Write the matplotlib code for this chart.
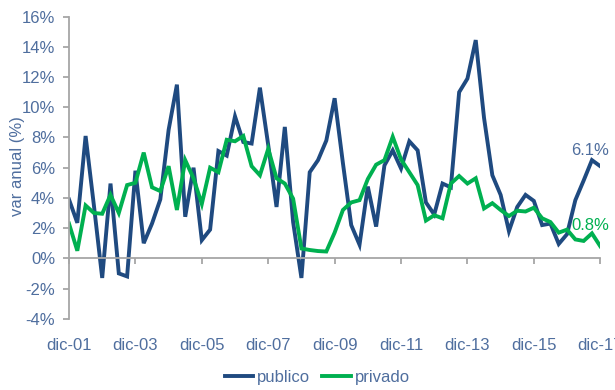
import matplotlib.pyplot as plt
import numpy as np

# variación anual trimestral, dic-01 a dic-17
publico = [3.9, 2.35, 8.1, 3.5, -1.3, 4.95, -1.0, -1.2, 5.8, 1.0,
           2.3, 3.9, 8.5, 11.5, 2.75, 6.0, 1.2, 1.9, 7.1, 6.8,
           9.4, 7.7, 7.6, 11.3, 7.5, 3.4, 8.7, 2.4, -1.3, 5.7,
           6.5, 7.8, 10.6, 6.3, 2.2, 0.9, 4.75, 2.1, 6.15, 7.15,
           5.95, 7.75, 7.15, 3.7, 2.9, 4.95, 4.7, 11.0, 11.9, 14.45,
           9.3, 5.5, 4.2, 1.8, 3.4, 4.2, 3.8, 2.2, 2.3, 0.95,
           1.6, 3.85, 5.15, 6.5, 6.1]
privado = [2.3, 0.5, 3.5, 3.0, 2.95, 4.2, 3.0, 4.85, 5.0, 7.0,
           4.7, 4.45, 6.1, 3.2, 6.5, 5.3, 3.6, 6.0, 5.7, 7.85,
           7.75, 8.1, 6.1, 5.5, 7.25, 5.3, 4.95, 3.95, 0.65, 0.55,
           0.48, 0.45, 1.7, 3.2, 3.7, 3.85, 5.25, 6.2, 6.5, 8.05,
           6.55, 5.7, 4.85, 2.5, 2.85, 2.65, 4.95, 5.45, 4.95, 5.3,
           3.3, 3.65, 3.2, 2.8, 3.15, 3.1, 3.35, 2.65, 2.4, 1.7,
           1.9, 1.25, 1.15, 1.65, 0.8]
etiquetas = ["dic-01", "dic-03", "dic-05", "dic-07", "dic-09",
             "dic-11", "dic-13", "dic-15", "dic-17"]
yticks = [-4, -2, 0, 2, 4, 6, 8, 10, 12, 14, 16]

azul = "#1F4A80"
verde = "#00B050"
texto = "#4F6E9E"
gris = "#A6A6A6"

plt.rcParams['font.family'] = ['Liberation Sans', 'DejaVu Sans']
plt.rcParams['font.size'] = 12

fig = plt.figure(figsize=(6.15, 3.9), dpi=100)
ax = fig.add_axes([0.1122, 0.1828, 0.976 - 0.1122, 0.9572 - 0.1828])

x = np.arange(len(publico))
ax.plot(x, publico, color=azul, lw=2.8, label="publico", solid_joinstyle='miter')
ax.plot(x, privado, color=verde, lw=2.8, label="privado", solid_joinstyle='miter')

ax.set_xlim(0, len(publico) - 1)
ax.set_ylim(-4, 16)
ax.set_yticks(yticks)
ax.set_yticklabels([f"{v}%" for v in yticks])

# eje x cruzando en 0, etiquetas abajo
ax.spines['top'].set_visible(False)
ax.spines['right'].set_visible(False)
ax.spines['bottom'].set_position(('data', 0))
for s in ('left', 'bottom'):
    ax.spines[s].set_color(gris)
    ax.spines[s].set_linewidth(1.3)

ticks_x = np.arange(0, len(publico), 8)
ax.set_xticks(ticks_x)
ax.tick_params(axis='x', direction='out', length=4, width=1.3, color=gris, labelbottom=False)
ax.tick_params(axis='y', direction='out', length=4, width=1.3, color=gris, labelcolor=texto, pad=6)

sec = ax.secondary_xaxis('bottom')
sec.set_xticks(ticks_x)
sec.set_xticklabels(etiquetas)
sec.spines['bottom'].set_visible(False)
sec.tick_params(length=0, pad=14, labelcolor=texto)

fig.text(18 / 615, 0.575, "var anual (%)", rotation=90, ha='center', va='center',
         color=texto)

ax.annotate(f"{publico[-1]:.1f}%", (x[-1], publico[-1]), xytext=(-7, 11),
            textcoords='offset points', ha='center', va='center',
            color=texto, annotation_clip=False)
ax.annotate(f"{privado[-1]:.1f}%", (x[-1], privado[-1]), xytext=(-7, 15),
            textcoords='offset points', ha='center', va='center',
            color=verde, annotation_clip=False)

fig.legend(loc='center', bbox_to_anchor=(0.516, 0.033), ncol=2, frameon=False,
           handlelength=1.7, handletextpad=0.25, columnspacing=0.7,
           labelcolor=texto)

fig.savefig("out.png", dpi=100)
